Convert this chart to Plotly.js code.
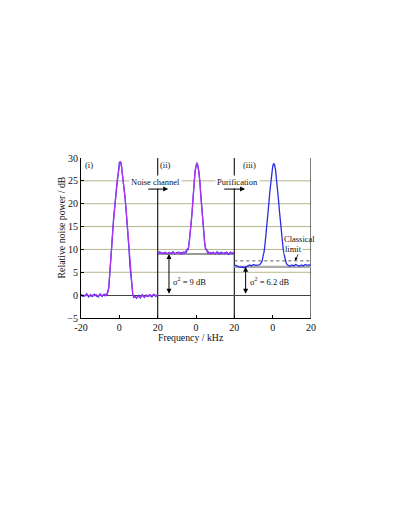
<!DOCTYPE html>
<html>
<head>
<meta charset="utf-8">
<script src="https://cdn.plot.ly/plotly-3.0.1.min.js"></script>
<style>
    body { margin: 0; background: #fff; }
    #chartDiv { width: 409px; height: 529px; }
</style>
</head>
<body>
<div id="chartDiv"></div>
<script>
// frequency points shared by every panel (kHz), finer steps across the peak
var freq = [-20, -19, -18, -17, -16, -15, -14, -13, -12, -11, -10, -9, -8,
    -7.5, -7, -6.5, -6, -5.5, -5, -4.5, -4, -3.5, -3, -2.5, -2, -1.5, -1, -0.5,
    0, 0.5, 1, 1.5, 2, 2.5, 3, 3.5, 4, 4.5, 5, 5.5, 6, 6.5, 7, 7.5,
    8, 9, 10, 11, 12, 13, 14, 15, 16, 17, 18, 19, 20];

// panel (i) - purple trace and blue raw trace (dB)
var p1Purple = [-0.1, 0.0, -0.2, 0.1, -0.1, -0.2, 0.0, -0.1, 0.1, -0.2, 0.0, -0.1, 0.1,
    0.1, -0.1, 0.2, 0.6, 1.8, 4.3, 7.3, 10.6, 13.8, 16.7, 19.4, 21.5, 23.5, 25.5, 27.2,
    28.8, 29.3, 28.6, 27.0, 25.0, 23.1, 21.2, 18.9, 16.1, 13.1, 10.0, 6.7, 3.8, 1.3, 0.1, -0.3,
    -0.4, -0.5, -0.3, -0.4, -0.1, -0.3, -0.2, 0.0, -0.2, -0.1, 0.1, -0.1, 0.0];
var p1Blue = [0.2, -0.3, -0.1, 0.3, -0.4, 0.1, -0.3, 0.2, -0.2, -0.4, 0.3, -0.3, 0.2,
    -0.2, 0.2, -0.1, 0.9, 1.5, 4.6, 7.0, 10.9, 13.5, 17.0, 19.2, 21.8, 23.3, 25.7, 27.0,
    29.0, 29.1, 28.8, 26.8, 25.2, 22.9, 21.4, 18.7, 16.3, 12.9, 10.2, 6.5, 4.0, 1.1, 0.3, -0.6,
    -0.2, -0.7, -0.1, -0.6, 0.1, -0.5, 0.0, -0.3, 0.1, -0.4, 0.2, -0.3, 0.2];

// panel (ii) - after the noise channel
var p2Purple = [9.2, 9.3, 9.1, 9.3, 9.2, 9.1, 9.3, 9.2, 9.3, 9.1, 9.2, 9.3, 9.2,
    9.2, 9.1, 9.3, 9.2, 9.4, 9.6, 9.9, 10.2, 11.4, 13.3, 15.6, 18.5, 21.6, 25.0, 26.9,
    28.3, 28.9, 28.3, 26.9, 25.0, 21.6, 18.5, 15.6, 13.3, 11.4, 10.2, 9.8, 9.5, 9.3, 9.2, 9.1,
    9.3, 9.2, 9.1, 9.3, 9.2, 9.2, 9.1, 9.3, 9.2, 9.1, 9.3, 9.2, 9.2];
var p2Blue = [9.0, 9.5, 9.2, 9.1, 9.4, 9.0, 9.4, 9.1, 9.5, 9.0, 9.3, 9.4, 9.0,
    9.4, 9.0, 9.5, 9.1, 9.6, 9.4, 10.1, 10.0, 11.7, 13.1, 15.9, 18.3, 21.9, 24.8, 27.1,
    28.1, 29.0, 28.1, 27.1, 24.8, 21.9, 18.3, 15.8, 13.0, 11.6, 10.0, 10.0, 9.3, 9.5, 9.0, 9.3,
    9.1, 9.4, 9.0, 9.5, 9.0, 9.4, 9.2, 9.1, 9.4, 8.9, 9.4, 9.1, 9.3];

// panel (iii) - after purification (blue only)
var p3Blue = [6.6, 6.4, 6.3, 6.1, 6.2, 6.0, 6.2, 6.4, 6.6, 6.4, 6.7, 6.5, 6.6,
    6.5, 6.6, 6.8, 7.0, 7.4, 8.6, 9.4, 11.1, 13.0, 15.0, 17.5, 20.0, 22.5, 25.0, 26.8,
    28.1, 28.8, 28.5, 27.4, 25.7, 23.5, 21.0, 18.5, 16.0, 14.0, 12.0, 10.0, 8.9, 7.7, 7.1, 6.7,
    6.5, 6.3, 6.6, 6.4, 6.7, 6.5, 6.3, 6.6, 6.4, 6.7, 6.5, 6.6, 6.5];

var panelOffset = [0, 40, 80]; // each panel is 40 kHz wide on one shared axis
var tickVals = [-20, 0, 20, 40, 60, 80, 100];
var tickText = ['-20', '0', '20', '0', '20', '0', '20'];
var yTicks = [-5, 0, 5, 10, 15, 20, 25, 30];
var gridLevels = [5, 10, 15, 20, 25];
var noiseLevel = 9;      // sigma^2 after noise channel
var purifiedLevel = 6.2; // sigma^2 after purification
var classicalLimit = 7.5;

var serif = 'Liberation Serif, Times New Roman, serif';
var purple = '#ad34f4';
var blue = '#2b2be8';

function shift(arr, off) { // move panel frequencies onto the shared axis
    return arr.map(function (f) { return f + off; });
}

function line(x, y, color, w) {
    return { x: x, y: y, mode: 'lines', type: 'scatter', hoverinfo: 'skip',
        line: { color: color, width: w }, showlegend: false };
}

var data = [];
data.push(line(shift(freq, panelOffset[0]), p1Blue, blue, 1.2));
data.push(line(shift(freq, panelOffset[0]), p1Purple, purple, 1.3));
data.push(line(shift(freq, panelOffset[1]), p2Blue, blue, 1.2));
data.push(line(shift(freq, panelOffset[1]), p2Purple, purple, 1.3));
data.push(line(shift(freq, panelOffset[2]), p3Blue, blue, 1.3));

var shapes = [];
gridLevels.forEach(function (g) { // olive grid lines
    shapes.push({ type: 'line', xref: 'x', yref: 'y', x0: -20, x1: 100, y0: g, y1: g,
        layer: 'below', line: { color: '#b7b58e', width: 1 } });
});
[20, 60, 100].forEach(function (v) { // panel dividers + right border
    shapes.push({ type: 'line', xref: 'x', yref: 'y', x0: v, x1: v, y0: -5, y1: 30,
        layer: 'below', line: { color: '#222', width: 1.2 } });
});
shapes.push({ type: 'line', x0: 20, x1: 60, y0: noiseLevel, y1: noiseLevel, layer: 'below',
    line: { color: '#333', width: 1 } });
shapes.push({ type: 'line', x0: 60, x1: 100, y0: purifiedLevel, y1: purifiedLevel, layer: 'below',
    line: { color: '#aaaaaa', width: 2.2 } });
shapes.push({ type: 'line', x0: 60, x1: 100, y0: classicalLimit, y1: classicalLimit, layer: 'below',
    line: { color: '#555', width: 1, dash: 'dot' } });

var small = { family: serif, size: 8.5, color: '#111' };
function txt(x, y, s, anchor) {
    return { x: x, y: y, xref: 'x', yref: 'y', text: s, showarrow: false,
        xanchor: anchor || 'center', yanchor: 'middle', font: small };
}
function arrow(x, y, ax, ay, both) {
    return { x: x, y: y, ax: ax, ay: ay, xref: 'x', yref: 'y', axref: 'x', ayref: 'y',
        text: '', showarrow: true, arrowhead: 2, arrowsize: 1, arrowwidth: 1, arrowcolor: '#000',
        arrowside: both ? 'end+start' : 'end', startarrowhead: 2, standoff: 0, startstandoff: 0 };
}

var annotations = [
    txt(-15.8, 28.5, '(i)'),
    txt(24.3, 28.5, '(ii)'),
    txt(67.7, 28.5, '(iii)'),
    Object.assign(txt(19.1, 24.7, 'Noise channel'), { bgcolor: '#fff', borderpad: 1 }),
    Object.assign(txt(61.7, 24.7, 'Purification'), { bgcolor: '#fff', borderpad: 1 }),
    arrow(25.5, 23.2, 14.3, 23.2, false),
    arrow(65.6, 23.2, 53.9, 23.2, false),
    arrow(25.9, noiseLevel, 25.9, 0, true),
    arrow(65.9, purifiedLevel, 65.9, 0, true),
    txt(26.8, 3, '\u03c3<sup>2</sup> = 9 dB', 'left'),
    txt(67.0, 3, '\u03c3<sup>2</sup> = 6.2 dB', 'left'),
    txt(84.9, 12.3, 'Classical', 'left'),
    Object.assign(txt(86.1, 10.2, 'limit', 'left'), { bgcolor: '#fff', borderpad: 0 }),
    { x: 91.6, y: classicalLimit, xref: 'x', yref: 'y', ax: 4, ay: -8, text: '', showarrow: true,
        arrowhead: 2, arrowsize: 0.8, arrowwidth: 0.8, arrowcolor: '#000', standoff: 0 },
    // axis titles placed by hand
    { x: -0.084, y: 0.564, xref: 'paper', yref: 'paper', xanchor: 'center', yanchor: 'middle',
        text: 'Relative noise power / dB', textangle: -90, showarrow: false,
        font: { family: serif, size: 9.8, color: '#111' } },
    { x: 0.477, y: -0.122, xref: 'paper', yref: 'paper', xanchor: 'center', yanchor: 'middle',
        text: 'Frequency / kHz', showarrow: false,
        font: { family: serif, size: 9.8, color: '#111' } }
];

var layout = {
    width: 409, height: 529,
    margin: { l: 81, r: 98, t: 158, b: 211 },
    paper_bgcolor: '#fff', plot_bgcolor: '#fff',
    showlegend: false,
    xaxis: {
        range: [-20, 100], tickvals: tickVals, ticktext: tickText,
        ticks: 'inside', ticklen: 3, tickcolor: '#000',
        showgrid: false, zeroline: false, showline: true, linecolor: '#000', linewidth: 1,
        tickfont: { family: serif, size: 10, color: '#111' }
    },
    yaxis: {
        range: [-5, 30], tickvals: yTicks,
        ticks: 'inside', ticklen: 3, tickcolor: '#000',
        showgrid: false, zeroline: true, zerolinecolor: '#444', zerolinewidth: 1,
        showline: true, linecolor: '#000', linewidth: 1,
        tickfont: { family: serif, size: 10, color: '#111' }
    },
    shapes: shapes,
    annotations: annotations
};

Plotly.newPlot('chartDiv', data, layout, { staticPlot: true });
</script>
</body>
</html>
